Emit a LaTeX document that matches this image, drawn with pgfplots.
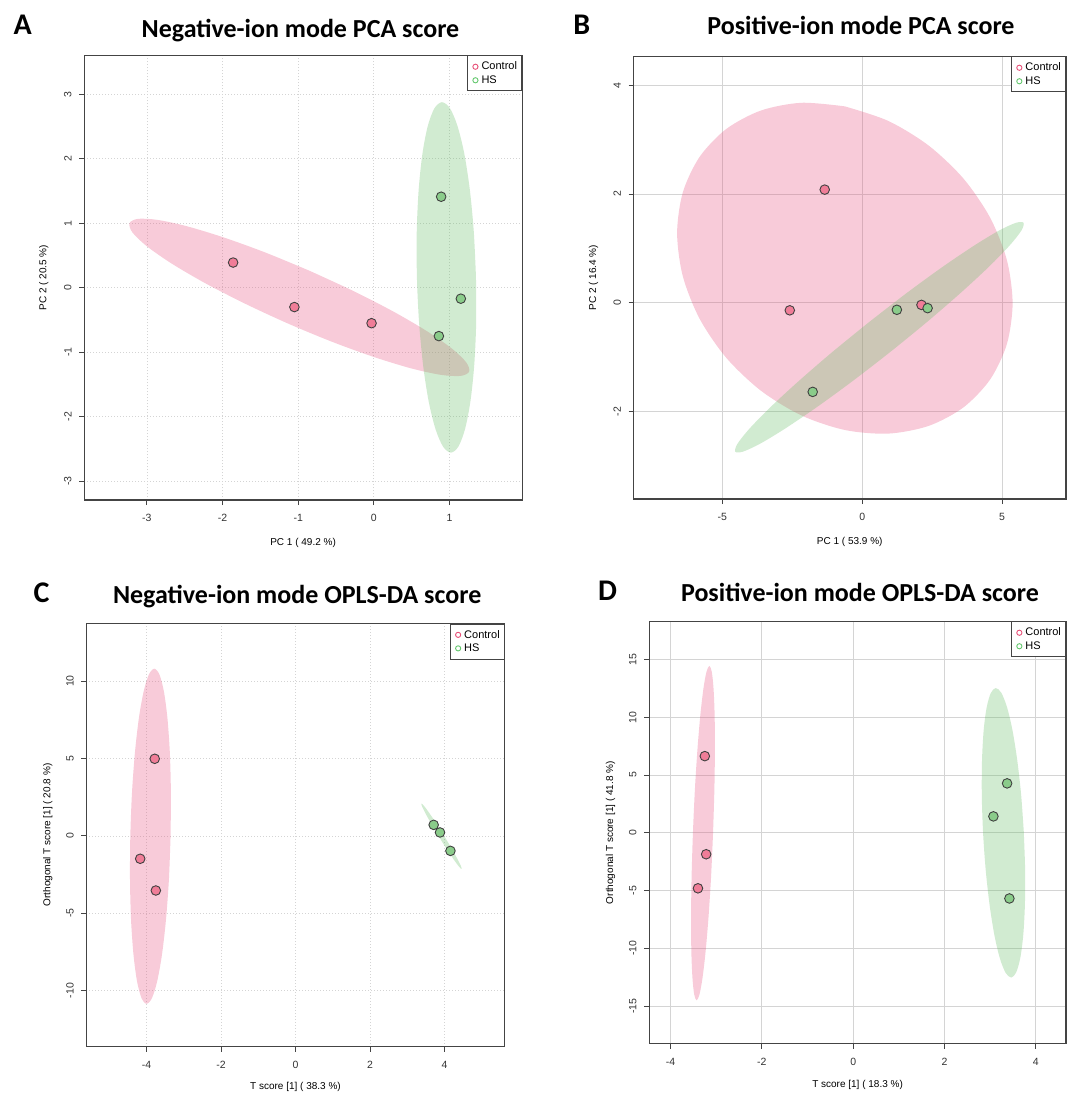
\documentclass[border=0pt]{standalone}
\usepackage{fontspec}
\setmainfont{Liberation Sans}
\newfontfamily\calibri{Carlito}
\usepackage{pgfplots}
\pgfplotsset{compat=1.18}

\definecolor{ctrlE}{RGB}{231,84,128}
\definecolor{hsE}{RGB}{102,190,102}
\definecolor{ctrlPt}{RGB}{240,125,152}
\definecolor{hsPt}{RGB}{138,204,138}
\definecolor{ctrlLeg}{RGB}{232,80,120}
\definecolor{hsLeg}{RGB}{100,200,110}
\definecolor{frame}{RGB}{68,68,68}
\definecolor{gridc}{RGB}{212,212,212}

\pgfplotsset{
  score/.style={
    scale only axis, anchor=south west,
    axis line style={draw=frame, line width=1.2pt},
    tick align=outside, tick pos=left, major tick length=5pt,
    every tick/.style={draw=frame, line width=0.8pt},
    tick label style={font=\fontsize{10.5}{12}\selectfont, text=black!80},
    /pgf/number format/assume math mode=true,
    xticklabel style={anchor=north},
    yticklabel style={rotate=90, anchor=south},
    xticklabel shift=6pt, yticklabel shift=4pt,
    label style={font=\fontsize{10.5}{12}\selectfont, text=black!80},
    grid=major,
    legend style={at={(1,1)}, anchor=north east, draw=frame, line width=1pt,
      font=\fontsize{11}{12}\selectfont, inner xsep=3pt, inner ysep=4.5pt,
      nodes={inner sep=1.6pt}, row sep=1pt, legend cell align=left, fill=white},
    legend image code/.code={\path[draw=none, fill=none] (0pt,-1pt) rectangle (9pt,1pt);
      \draw[#1] plot coordinates {(4.5pt,0pt)};},
  },
  xlab/.style={every axis x label/.style={at={(axis description cs:0.5,0)}, anchor=center, yshift=-#1}},
  ylab/.style={every axis y label/.style={at={(axis description cs:0,0.5)}, xshift=-#1, rotate=90, anchor=center}},
  dotgrid/.style={grid style={gridc, dash pattern=on 1pt off 2pt, line width=0.7pt}},
  solidgrid/.style={grid style={gridc, line width=0.8pt}},
  ctrlell/.style={smooth, draw=none, fill=ctrlE, fill opacity=0.3, forget plot},
  hsell/.style={smooth, draw=none, fill=hsE, fill opacity=0.3, forget plot},
  ctrlpts/.style={only marks, mark=*, mark size=4.8pt, mark options={fill=ctrlPt, draw=black!75, line width=0.9pt}, forget plot},
  hspts/.style={only marks, mark=*, mark size=4.8pt, mark options={fill=hsPt, draw=black!75, line width=0.9pt}, forget plot},
}

\newcommand{\legendpair}{%
  \addlegendimage{only marks, mark=o, mark size=2.6pt, draw=ctrlLeg, line width=0.9pt}
  \addlegendentry{Control}
  \addlegendimage{only marks, mark=o, mark size=2.6pt, draw=hsLeg, line width=0.9pt}
  \addlegendentry{HS}}

\begin{document}
\begin{tikzpicture}
\useasboundingbox (0pt,0pt) rectangle (1068pt,-1095pt);

% titles and panel letters
\node[anchor=base west, font=\calibri\bfseries\fontsize{30}{34}\selectfont] at (10pt,-34.6pt) {A};
\node[anchor=base west, font=\calibri\bfseries\fontsize{30}{34}\selectfont] at (569.8pt,-34pt) {B};
\node[anchor=base west, font=\calibri\bfseries\fontsize{30}{34}\selectfont] at (30pt,-602.6pt) {C};
\node[anchor=base west, font=\calibri\bfseries\fontsize{30}{34}\selectfont] at (594.6pt,-600.3pt) {D};
\node[anchor=base, font=\calibri\bfseries\fontsize{26}{30}\selectfont] at (300.5pt,-37.5pt) {Negative-ion mode PCA score};
\node[anchor=base, font=\calibri\bfseries\fontsize{26}{30}\selectfont] at (861pt,-34.6pt) {Positive-ion mode PCA score};
\node[anchor=base, font=\calibri\bfseries\fontsize{26}{30}\selectfont] at (297.2pt,-603.7pt) {Negative-ion mode OPLS-DA score};
\node[anchor=base, font=\calibri\bfseries\fontsize{26}{30}\selectfont] at (860pt,-601.6pt) {Positive-ion mode OPLS-DA score};

% A: negative-ion PCA
\begin{axis}[score, dotgrid, at={(84.1pt,-500pt)}, width=438pt, height=444.6pt,
  xmin=-3.83, xmax=1.96, ymin=-3.29, ymax=3.60,
  xtick={-3,-2,-1,0,1}, ytick={-3,-2,-1,0,1,2,3},
  xlab=43pt, ylab=40.4pt,
  xlabel={PC 1 ( 49.2 \%)}, ylabel={PC 2 ( 20.5 \%)}]
\addplot[ctrlell] coordinates {(-0.845,0.260) (-1.431,0.544) (-1.987,0.780) (-2.473,0.953)
  (-2.859,1.051) (-3.118,1.067) (-3.230,1.000) (-3.190,0.855) (-2.999,0.641) (-2.671,0.373)
  (-2.229,0.070) (-1.701,-0.248) (-1.125,-0.560) (-0.539,-0.844) (0.017,-1.080) (0.503,-1.253)
  (0.889,-1.351) (1.148,-1.367) (1.260,-1.300) (1.220,-1.155) (1.029,-0.941) (0.701,-0.673)
  (0.259,-0.370) (-0.269,-0.052) (-0.845,0.260)};
\addplot[hsell] coordinates {(1.350,0.172) (1.353,-0.531) (1.328,-1.188) (1.278,-1.752)
  (1.207,-2.185) (1.119,-2.460) (1.020,-2.555) (0.917,-2.466) (0.817,-2.197) (0.726,-1.768)
  (0.652,-1.208) (0.599,-0.555) (0.570,0.148) (0.567,0.851) (0.592,1.508) (0.642,2.072)
  (0.713,2.505) (0.801,2.780) (0.900,2.875) (1.003,2.786) (1.103,2.517) (1.194,2.088)
  (1.268,1.528) (1.321,0.875) (1.350,0.172)};
\addplot[ctrlpts] coordinates {(-1.86,0.39) (-1.05,-0.30) (-0.03,-0.55)};
\addplot[hspts] coordinates {(0.89,1.41) (1.15,-0.17) (0.86,-0.75)};
\legendpair
\end{axis}

% B: positive-ion PCA
\begin{axis}[score, solidgrid, at={(633.5pt,-499pt)}, width=432.5pt, height=442.6pt,
  xmin=-8.18, xmax=7.29, ymin=-3.61, ymax=4.53,
  xtick={-5,0,5}, ytick={-2,0,2,4},
  xlab=43pt, ylab=40pt,
  xlabel={PC 1 ( 53.9 \%)}, ylabel={PC 2 ( 16.4 \%)}]
\addplot[ctrlell] coordinates {(-0.620,3.611) (-2.174,3.677) (-3.620,3.535) (-4.862,3.195)
  (-5.816,2.682) (-6.416,2.029) (-6.620,1.280) (-6.416,0.487) (-5.816,-0.294) (-4.862,-1.013)
  (-3.620,-1.619) (-2.174,-2.073) (-0.620,-2.341) (0.934,-2.407) (2.380,-2.265) (3.622,-1.925)
  (4.576,-1.412) (5.176,-0.759) (5.380,-0.010) (5.176,0.783) (4.576,1.564) (3.622,2.283)
  (2.380,2.889) (0.934,3.343) (-0.620,3.611)};
\addplot[hsell] coordinates {(0.233,-0.362) (-1.089,-0.916) (-2.294,-1.452) (-3.300,-1.930)
  (-4.040,-2.321) (-4.464,-2.597) (-4.540,-2.740) (-4.266,-2.739) (-3.658,-2.595) (-2.760,-2.316)
  (-1.632,-1.924) (-0.351,-1.444) (0.997,-0.908) (2.319,-0.354) (3.524,0.182) (4.530,0.660)
  (5.270,1.051) (5.694,1.327) (5.770,1.470) (5.496,1.469) (4.888,1.325) (3.990,1.046)
  (2.862,0.654) (1.581,0.174) (0.233,-0.362)};
\addplot[ctrlpts] coordinates {(-1.34,2.08) (-2.59,-0.14) (2.12,-0.04)};
\addplot[hspts] coordinates {(1.24,-0.13) (2.34,-0.10) (-1.77,-1.64)};
\legendpair
\end{axis}

% C: negative-ion OPLS-DA
\begin{axis}[score, dotgrid, at={(86.2pt,-1046.5pt)}, width=418.6pt, height=423pt,
  xmin=-5.62, xmax=5.62, ymin=-13.61, ymax=13.72,
  xtick={-4,-2,0,2,4}, ytick={-10,-5,0,5,10},
  xlab=40.6pt, ylab=38.5pt,
  xlabel={T score [1] ( 38.3 \%)}, ylabel={Orthogonal T score [1] ( 20.8 \%)}]
\addplot[ctrlell] coordinates {(-3.355,-0.055) (-3.400,-2.858) (-3.480,-5.464) (-3.587,-7.699)
  (-3.716,-9.414) (-3.856,-10.490) (-4.000,-10.850) (-4.136,-10.474) (-4.256,-9.384) (-4.351,-7.657)
  (-4.416,-5.412) (-4.444,-2.800) (-4.435,0.005) (-4.390,2.808) (-4.310,5.414) (-4.203,7.649)
  (-4.074,9.364) (-3.934,10.440) (-3.790,10.800) (-3.654,10.424) (-3.534,9.334) (-3.439,7.607)
  (-3.374,5.362) (-3.346,2.750) (-3.355,-0.055)};
\addplot[hsell] coordinates {(3.975,0.056) (4.113,-0.495) (4.238,-1.013) (4.341,-1.463)
  (4.416,-1.816) (4.456,-2.047) (4.460,-2.140) (4.428,-2.089) (4.360,-1.898) (4.263,-1.577)
  (4.142,-1.153) (4.007,-0.651) (3.865,-0.106) (3.727,0.445) (3.602,0.963) (3.499,1.413)
  (3.424,1.766) (3.384,1.997) (3.380,2.090) (3.412,2.039) (3.480,1.848) (3.577,1.527)
  (3.698,1.103) (3.833,0.601) (3.975,0.056)};
\addplot[ctrlpts] coordinates {(-3.78,4.98) (-4.17,-1.48) (-3.75,-3.53)};
\addplot[hspts] coordinates {(3.71,0.71) (3.88,0.22) (4.16,-0.97)};
\legendpair
\end{axis}

% D: positive-ion OPLS-DA
\begin{axis}[score, solidgrid, at={(649.1pt,-1043.8pt)}, width=416.9pt, height=422.4pt,
  xmin=-4.47, xmax=4.66, ymin=-18.28, ymax=18.31,
  xtick={-4,-2,0,2,4}, ytick={-15,-10,-5,0,5,10,15},
  xlab=41pt, ylab=38.5pt,
  xlabel={T score [1] ( 18.3 \%)}, ylabel={Orthogonal T score [1] ( 41.8 \%)}]
\addplot[ctrlell] coordinates {(-3.070,-0.063) (-3.113,-3.812) (-3.169,-7.299) (-3.233,-10.290)
  (-3.301,-12.587) (-3.368,-14.027) (-3.430,-14.510) (-3.482,-14.009) (-3.521,-12.553) (-3.545,-10.244)
  (-3.551,-7.241) (-3.539,-3.748) (-3.510,0.003) (-3.467,3.752) (-3.411,7.239) (-3.347,10.230)
  (-3.279,12.527) (-3.212,13.967) (-3.150,14.450) (-3.098,13.949) (-3.059,12.493) (-3.035,10.184)
  (-3.029,7.181) (-3.041,3.688) (-3.070,-0.063)};
\addplot[hsell] coordinates {(3.735,0.094) (3.764,-3.157) (3.760,-6.189) (3.725,-8.800)
  (3.660,-10.813) (3.569,-12.090) (3.460,-12.540) (3.339,-12.138) (3.214,-10.907) (3.095,-8.932)
  (2.990,-6.351) (2.904,-3.339) (2.845,-0.094) (2.816,3.157) (2.820,6.189) (2.855,8.800)
  (2.920,10.813) (3.011,12.090) (3.120,12.540) (3.241,12.138) (3.366,10.907) (3.485,8.932)
  (3.590,6.351) (3.676,3.339) (3.735,0.094)};
\addplot[ctrlpts] coordinates {(-3.25,6.64) (-3.22,-1.86) (-3.40,-4.81)};
\addplot[hspts] coordinates {(3.37,4.28) (3.07,1.42) (3.42,-5.69)};
\legendpair
\end{axis}
\end{tikzpicture}
\end{document}
